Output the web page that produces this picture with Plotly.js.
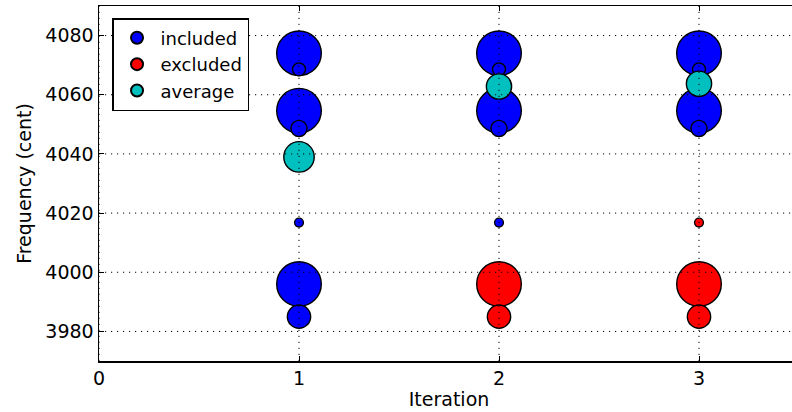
<!DOCTYPE html>
<html>
<head>
<meta charset="utf-8">
<script src="https://cdn.plot.ly/plotly-3.0.1.min.js"></script>
<style>
html, body { margin: 0; padding: 0; width: 792px; height: 412px; overflow: hidden; background: #fff; }
#chart { width: 800px; height: 412px; }
</style>
</head>
<body>
<div id="chart"></div>
<script>
// ---- data ----
// included points (iteration, frequency in cent, weight)
const includedIter   = [1, 1, 1, 1, 1, 1, 1, 2, 2, 2, 2, 2, 3, 3, 3, 3];
const includedFreq   = [4074, 4054.6, 3996, 4068.6, 4048.6, 4016.8, 3985, 4074, 4054.6, 4068.6, 4048.6, 4016.8, 4074, 4054.6, 4068.6, 4048.6];
const includedWeight = [21, 21, 21, 2, 3, 1, 6, 21, 21, 2, 3, 1, 21, 21, 2, 3];

// excluded points
const excludedIter   = [2, 2, 3, 3, 3];
const excludedFreq   = [3996, 3985, 4016.8, 3996, 3985];
const excludedWeight = [21, 6, 1, 21, 6];

// average points
const averageIter    = [1, 2, 3];
const averageFreq    = [4039, 4062.8, 4063.7];
const averageWeight  = [10, 7, 7];

// axes
const xTicks = [0, 1, 2, 3];
const yTicks = [3980, 4000, 4020, 4040, 4060, 4080];

// ---- styling ----
const FONT = 'DejaVu Sans';
const sizeOf = w => w.map(v => 10 * Math.sqrt(v) - 1.2);

function series(name, x, y, w, color) {
  return {
    type: 'scatter', mode: 'markers', name: name,
    x: x, y: y,
    marker: { color: color, size: sizeOf(w), sizemode: 'diameter',
              line: { color: '#000', width: 1.4 }, opacity: 1 },
    cliponaxis: true,
    hoverinfo: 'x+y'
  };
}

const traces = [
  series('included', includedIter, includedFreq, includedWeight, '#0000ff'),
  series('excluded', excludedIter, excludedFreq, excludedWeight, '#ff0000'),
  series('average', averageIter, averageFreq, averageWeight, '#00bfbf')
];

const gridLine = { color: '#000', width: 1, dash: '1.2px,4.8px' };
const shapes = [];
xTicks.forEach(t => shapes.push({ type: 'line', layer: 'above', xref: 'x', yref: 'paper',
  x0: t, x1: t, y0: 0, y1: 1, line: gridLine }));
yTicks.forEach(t => shapes.push({ type: 'line', layer: 'above', xref: 'paper', yref: 'y',
  x0: 0, x1: 1, y0: t, y1: t, line: gridLine }));

const axisCommon = {
  showline: true, linecolor: '#000', linewidth: 1.5, mirror: 'allticks',
  ticks: 'inside', ticklen: 5, tickwidth: 1, tickcolor: '#000',
  showgrid: false, zeroline: false, layer: 'above traces',
  tickfont: { family: FONT, size: 19, color: '#000' }
};

const layout = {
  width: 800, height: 412,
  margin: { l: 99, r: 1, t: 6, b: 51 },
  paper_bgcolor: '#fff', plot_bgcolor: '#fff',
  font: { family: FONT, size: 19, color: '#000' },
  showlegend: true,
  legend: {
    x: 0.0186, y: 0.966, xanchor: 'left', yanchor: 'top',
    bgcolor: '#fff', bordercolor: '#000', borderwidth: 1.5,
    font: { family: FONT, size: 18, color: '#000' },
    itemsizing: 'constant', itemwidth: 37, tracegroupgap: 0
  },
  xaxis: Object.assign({}, axisCommon, {
    range: [0, 3.5], tickvals: xTicks, ticktext: xTicks.map(String),
    title: { text: 'Iteration', font: { family: FONT, size: 19, color: '#000' }, standoff: 4 }
  }),
  yaxis: Object.assign({}, axisCommon, {
    range: [3970, 4090], tickvals: yTicks, ticktext: yTicks.map(String),
    title: { text: 'Frequency (cent)', font: { family: FONT, size: 19, color: '#000' }, standoff: 8 }
  }),
  shapes: shapes
};

Plotly.newPlot('chart', traces, layout, { displayModeBar: false, staticPlot: true });
</script>
</body>
</html>
